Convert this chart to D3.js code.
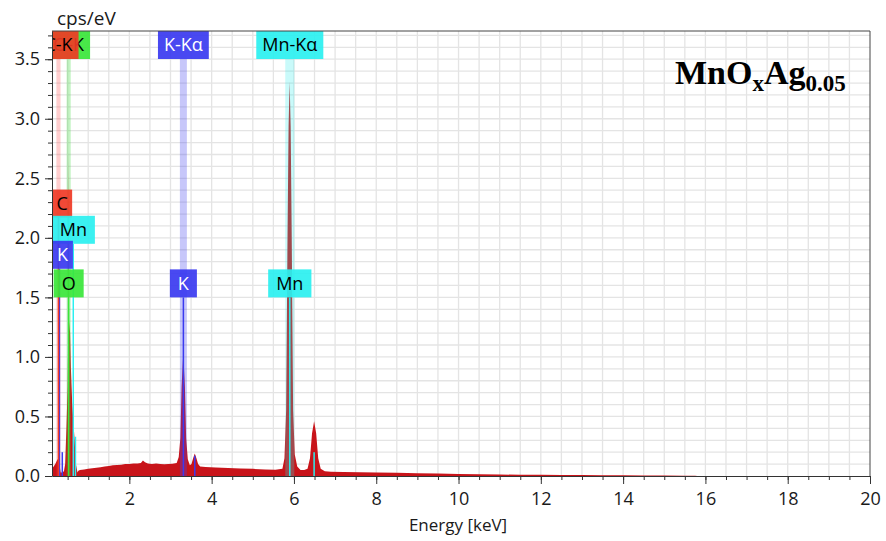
<!DOCTYPE html>
<html>
<head>
<meta charset="utf-8">
<script src="https://cdn.jsdelivr.net/npm/d3@7"></script>
<style>
  body { margin: 0; background: #fff; }
  text { font-family: "Open Sans", sans-serif; }
</style>
</head>
<body>
<div id="chart"></div>
<script>
// spectrum (keV, cps/eV)
const energy = [0.12, 0.16, 0.20, 0.24, 0.275, 0.30, 0.33, 0.37, 0.41, 0.44, 0.47, 0.50, 0.515, 0.525, 0.535, 0.56, 0.58, 0.61, 0.64, 0.67, 0.70, 0.74,
  0.76, 0.80, 0.90, 1.00, 1.10, 1.20, 1.30, 1.40, 1.50, 1.60, 1.70, 1.80, 1.90, 2.00, 2.10, 2.20, 2.28, 2.33, 2.38, 2.45, 2.55, 2.65, 2.75, 2.85, 2.95, 3.05, 3.15,
  3.20, 3.24, 3.27, 3.31, 3.35, 3.38, 3.42, 3.47, 3.51, 3.55, 3.59, 3.63, 3.67, 3.72, 3.85, 4.10, 4.40, 4.70, 5.00, 5.30, 5.55, 5.72,
  5.77, 5.81, 5.845, 5.87, 5.895, 5.92, 5.945, 5.98, 6.02, 6.08, 6.16, 6.25, 6.33, 6.39, 6.44, 6.49, 6.54, 6.59, 6.65, 6.75,
  6.90, 7.20, 7.60, 8.00, 8.50, 9.00, 9.50, 10.0, 10.5, 11.0, 11.5, 12.0, 12.5, 13.0, 13.5, 14.0, 14.5, 15.0, 15.5, 15.75, 15.8];
const counts = [0.06, 0.08, 0.10, 0.13, 0.15, 0.10, 0.03, 0.03, 0.04, 0.10, 0.40, 0.75, 1.25, 2.73, 1.30, 1.20, 0.90, 0.62, 0.45, 0.30, 0.10, 0.03,
  0.045, 0.05, 0.055, 0.06, 0.066, 0.07, 0.074, 0.08, 0.085, 0.09, 0.092, 0.095, 0.1, 0.1, 0.104, 0.105, 0.11, 0.13, 0.115, 0.105, 0.10, 0.104, 0.10, 0.098, 0.10, 0.103, 0.11,
  0.16, 0.32, 0.75, 1.03, 0.75, 0.32, 0.14, 0.09, 0.10, 0.15, 0.19, 0.15, 0.10, 0.08, 0.075, 0.072, 0.068, 0.063, 0.06, 0.055, 0.052, 0.06,
  0.15, 0.55, 2.05, 2.94, 3.31, 2.94, 2.05, 0.55, 0.18, 0.08, 0.05, 0.05, 0.06, 0.15, 0.36, 0.46, 0.36, 0.15, 0.06, 0.04,
  0.036, 0.034, 0.032, 0.03, 0.027, 0.024, 0.02, 0.016, 0.014, 0.012, 0.011, 0.01, 0.009, 0.008, 0.007, 0.006, 0.005, 0.004, 0.003, 0.003, 0];

// element line labels along the top
const topLabels = ["O-K", "C-K", "K-Kα", "Mn-Kα"];
const topElements = ["O", "C", "K", "Mn"];
const topEnergy = [0.525, 0.277, 3.313, 5.899];
const topFwhm = [0.1, 0.1, 0.17, 0.22];

// element markers (label sits on its level, in cps/eV)
const markerLabels = ["C", "Mn", "K", "O", "K", "Mn"];
const markerEnergy = [0.277, 0.637, 0.30, 0.525, 3.313, 5.899];
const markerLevel = [2.17, 1.95, 1.74, 1.5, 1.5, 1.5];

// short secondary lines
const lineElements = ["K", "Mn", "K", "Mn"];
const lineEnergy = [0.37, 0.69, 3.59, 6.49];
const lineHeight = [0.2, 0.33, 0.17, 0.2];

const xTicks = d3.range(2, 20.01, 2);
const yTicks = d3.range(0, 3.51, 0.5);

const colors = {
  C: {fill: "#f03a26", band: "rgba(255,60,60,0.25)", text: "#000"},
  O: {fill: "#3ae63a", band: "rgba(60,220,60,0.3)", text: "#000"},
  K: {fill: "#3a3af0", band: "rgba(70,70,240,0.3)", text: "#fff"},
  Mn: {fill: "#2af0f0", band: "rgba(40,235,235,0.25)", text: "#000"}
};

const W = 886, H = 541;
const margin = {top: 31, right: 16, bottom: 65, left: 52};
const width = W - margin.left - margin.right;
const height = H - margin.top - margin.bottom;

const svg = d3.select("#chart").append("svg")
  .attr("width", W)
  .attr("height", H);

const g = svg.append("g")
  .attr("transform", `translate(${margin.left},${margin.top})`);

const x = d3.scaleLinear().domain([0.12, 20]).range([0, width]);
const y = d3.scaleLinear().domain([0, 3.737]).range([height, 0]);

g.append("clipPath").attr("id", "plot")
  .append("rect").attr("width", width).attr("height", height);

// grid
const grid = g.append("g").attr("stroke", "#e4e4e4").attr("stroke-width", 1.3);
grid.selectAll(".vg").data(d3.range(0.5, 20, 0.5)).enter().append("line")
  .attr("x1", d => x(d)).attr("x2", d => x(d))
  .attr("y1", 0).attr("y2", height);
grid.selectAll(".hg").data(d3.range(1, 38).map(i => i / 10)).enter().append("line")
  .attr("x1", 0).attr("x2", width)
  .attr("y1", d => y(d)).attr("y2", d => y(d));

const plot = g.append("g").attr("clip-path", "url(#plot)");

// spectrum
const spectrum = energy.map((e, i) => ({e, c: counts[i]}));
plot.append("path")
  .datum(spectrum)
  .attr("fill", "#c8141a")
  .attr("d", d3.area().x(d => x(d.e)).y0(y(0)).y1(d => y(d.c)));

const boxH = 28;

// bands of the top labels
topLabels.forEach((lab, i) => {
  const el = topElements[i];
  const e = topEnergy[i], w = topFwhm[i];
  plot.append("rect")
    .attr("x", x(e - w / 2))
    .attr("width", x(e + w / 2) - x(e - w / 2))
    .attr("y", boxH)
    .attr("height", height - boxH)
    .attr("fill", colors[el].band);
});

// secondary thin lines
lineEnergy.forEach((e, i) => {
  plot.append("line")
    .attr("x1", x(e)).attr("x2", x(e))
    .attr("y1", y(lineHeight[i])).attr("y2", height)
    .attr("stroke", colors[lineElements[i]].fill)
    .attr("stroke-width", 1.5);
});

// marker lines, C drawn last
markerLabels.map((lab, i) => i).reverse().forEach(i => {
  plot.append("line")
    .attr("x1", x(markerEnergy[i])).attr("x2", x(markerEnergy[i]))
    .attr("y1", y(markerLevel[i])).attr("y2", height)
    .attr("stroke", colors[markerLabels[i]].fill)
    .attr("stroke-width", 1.5);
});

// marker boxes, clipped by the plot; text centred on the visible part
markerLabels.forEach((lab, i) => {
  const mg = plot.append("g");
  const t = mg.append("text")
    .attr("font-size", 18)
    .attr("text-anchor", "middle")
    .attr("fill", colors[lab].text)
    .text(lab);
  const bw = t.node().getComputedTextLength() + 16;
  const cx = x(markerEnergy[i]);
  const left = Math.max(cx - bw / 2, 0);
  const right = Math.min(cx + bw / 2, width);
  const by = y(markerLevel[i]) - boxH;
  mg.insert("rect", "text")
    .attr("x", cx - bw / 2).attr("y", by)
    .attr("width", bw).attr("height", boxH)
    .attr("fill", colors[lab].fill)
    .attr("opacity", 0.92);
  t.attr("x", (left + right) / 2).attr("y", by + boxH / 2).attr("dy", "0.35em");
});

// top labels (clipped at plot edge)
topLabels.forEach((lab, i) => {
  const el = topElements[i];
  const tg = plot.append("g");
  const t = tg.append("text")
    .attr("font-size", 18)
    .attr("text-anchor", "middle")
    .attr("fill", colors[el].text)
    .text(lab);
  const bw = t.node().getComputedTextLength() + 12;
  const cx = x(topEnergy[i]);
  tg.insert("rect", "text")
    .attr("x", cx - bw / 2).attr("y", 0)
    .attr("width", bw).attr("height", boxH)
    .attr("fill", colors[el].fill)
    .attr("opacity", 0.92);
  t.attr("x", cx).attr("y", boxH / 2).attr("dy", "0.35em");
});

// axes
g.append("g").attr("transform", `translate(0,${height})`)
  .call(d3.axisBottom(x).tickValues(xTicks).tickSize(8).tickSizeOuter(0).tickPadding(8).tickFormat(d3.format("d")));
g.append("g").attr("transform", `translate(0,${height})`)
  .call(d3.axisBottom(x).tickValues(d3.range(0.5, 20, 0.5)).tickSize(4).tickFormat(""))
  .call(a => a.select(".domain").remove());

g.append("g")
  .call(d3.axisLeft(y).tickValues(yTicks).tickSize(7).tickSizeOuter(0).tickPadding(5).tickFormat(d3.format(".1f")));
g.append("g")
  .call(d3.axisLeft(y).tickValues(d3.range(1, 38).map(i => i / 10)).tickSize(4).tickFormat(""))
  .call(a => a.select(".domain").remove());

g.selectAll(".tick text").attr("font-size", 18).attr("fill", "#1a1a1a");
g.selectAll(".domain, .tick line").attr("stroke", "#333");

// frame top / right
g.append("line").attr("x1", 0).attr("x2", width).attr("y1", 0).attr("y2", 0).attr("stroke", "#444");
g.append("line").attr("x1", width).attr("x2", width).attr("y1", 0).attr("y2", height).attr("stroke", "#444");

// axis titles
svg.append("text")
  .attr("x", 57).attr("y", 25)
  .attr("font-size", 19)
  .attr("fill", "#1a1a1a")
  .text("cps/eV");

svg.append("text")
  .attr("x", margin.left + x(10) - 0.5).attr("y", 531)
  .attr("text-anchor", "middle")
  .attr("font-size", 17)
  .attr("fill", "#1a1a1a")
  .text("Energy [keV]");

// sample name
const title = svg.append("text")
  .attr("x", 675).attr("y", 84)
  .style("font-family", "'Liberation Serif', serif")
  .attr("font-weight", "bold")
  .attr("font-size", 34)
  .attr("fill", "#000");
title.append("tspan").text("MnO");
title.append("tspan").attr("font-size", 23).attr("dy", 7).text("x");
title.append("tspan").attr("dy", -7).text("Ag");
title.append("tspan").attr("font-size", 23).attr("dy", 7).text("0.05");
</script>
</body>
</html>
